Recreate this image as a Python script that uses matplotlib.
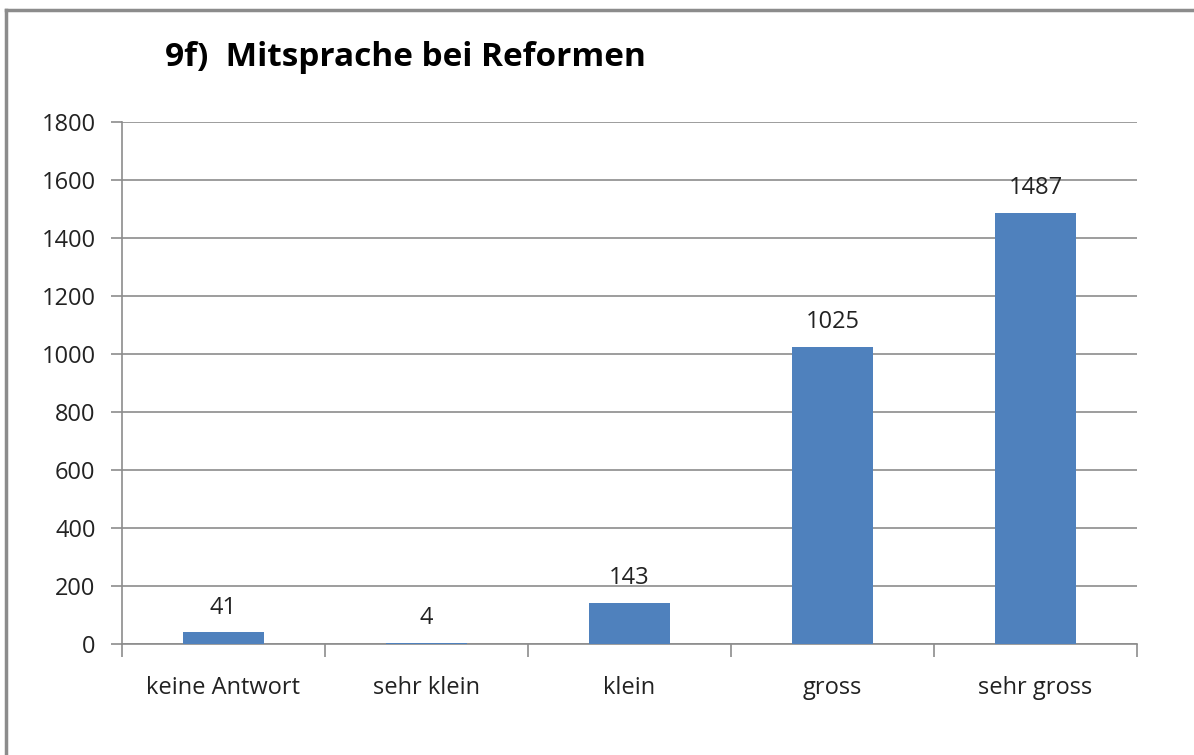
import matplotlib.pyplot as plt
from matplotlib.lines import Line2D

categories = ["keine Antwort", "sehr klein", "klein", "gross", "sehr gross"]
values = [41, 4, 143, 1025, 1487]
y_ticks = [0, 200, 400, 600, 800, 1000, 1200, 1400, 1600, 1800]
title = "9f)  Mitsprache bei Reformen"

plt.rcParams['font.family'] = ['Open Sans', 'DejaVu Sans']

fig = plt.figure(figsize=(11.94, 7.55), dpi=100)
ax = fig.add_axes([122/1194, 1-644/755, (1137-122)/1194, (644-122)/755])

x = list(range(len(categories)))
ax.bar(x, values, width=0.4, color="#4F81BD", zorder=3)
for xi, v in zip(x, values):
    ax.annotate(str(v), (xi, v), xytext=(0, 9), textcoords="offset points",
                ha="center", va="bottom", fontsize=17, color="#222222")

ax.set_xlim(-0.5, len(categories) - 0.5)
ax.set_ylim(0, 1800)
ax.set_yticks(y_ticks)
ax.set_yticklabels([str(t) for t in y_ticks], fontsize=17, color="#222222")
ax.yaxis.grid(True, color="#8c8c8c", linewidth=1.2, zorder=0)

# category labels centred, ticks on the boundaries
ax.set_xticks(x)
ax.set_xticklabels(categories, fontsize=17, color="#222222")
ax.tick_params(axis="x", length=0, pad=23)
ax.set_xticks([i - 0.5 for i in range(len(categories) + 1)], minor=True)
ax.tick_params(axis="x", which="minor", length=9, color="#8c8c8c", width=1.2)
ax.tick_params(axis="y", length=8, color="#8c8c8c", width=1.2, pad=11)

for s in ["top", "right"]:
    ax.spines[s].set_visible(False)
for s in ["left", "bottom"]:
    ax.spines[s].set_color("#8c8c8c")
    ax.spines[s].set_linewidth(1.2)

fig.text(165/1194, 1-57/755, title, fontsize=24, fontweight="bold", va="center", ha="left")

# chart frame (only top and left edges are visible in the original)
fig.add_artist(Line2D([6/1194, 1], [1-10/755, 1-10/755], color="#8c8c8c", linewidth=2.5, transform=fig.transFigure))
fig.add_artist(Line2D([6/1194, 6/1194], [0, 1-10/755], color="#8c8c8c", linewidth=2.5, transform=fig.transFigure))

fig.savefig("out.png", dpi=100)
